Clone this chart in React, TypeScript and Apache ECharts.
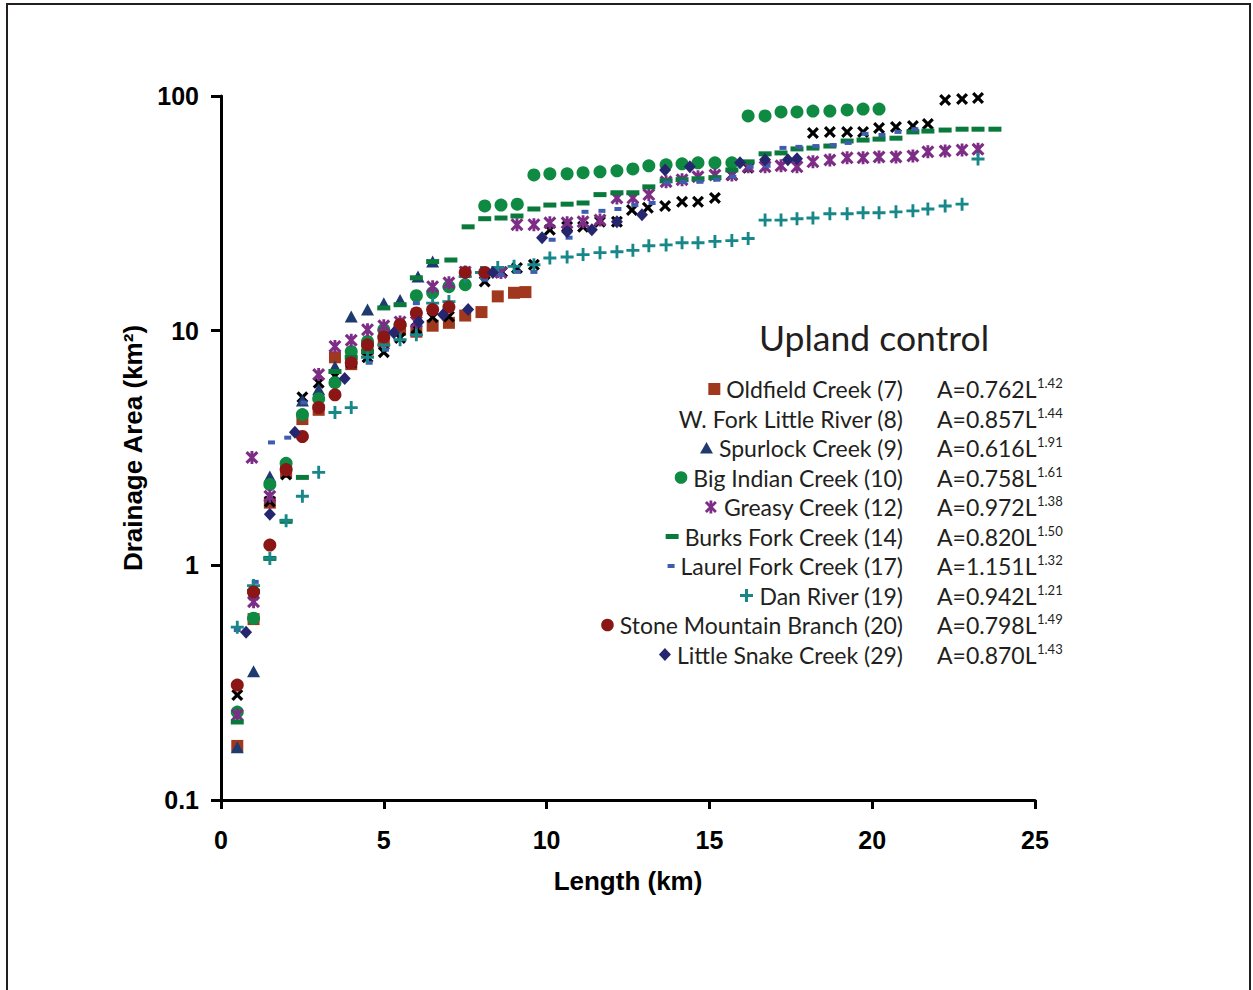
import React, { useEffect, useRef } from 'react';
import * as echarts from 'echarts';

// ---------------- data ----------------
const SERIES_NAMES = [
  'Oldfield Creek (7)',
  'W. Fork Little River (8)',
  'Spurlock Creek (9)',
  'Big Indian Creek (10)',
  'Greasy Creek (12)',
  'Burks Fork Creek (14)',
  'Laurel Fork Creek (17)',
  'Dan River (19)',
  'Stone Mountain Branch (20)',
  'Little Snake Creek (29)',
];
const FORMULA_BASE = ['A=0.762L', 'A=0.857L', 'A=0.616L', 'A=0.758L', 'A=0.972L', 'A=0.820L', 'A=1.151L', 'A=0.942L', 'A=0.798L', 'A=0.870L'];
const FORMULA_EXP = ['1.42', '1.44', '1.91', '1.61', '1.38', '1.50', '1.32', '1.21', '1.49', '1.43'];

const X_TICKS = [0, 5, 10, 15, 20, 25];
const Y_TICKS = [0.1, 1, 10, 100];

const OLD_L = [0.5, 1.0, 1.5, 2.0, 2.5, 3.0, 3.5, 4.0, 4.5, 5.0, 5.5, 6.0, 6.5, 7.0, 7.5, 8.0, 8.5, 9.0, 9.35];
const OLD_A = [0.17, 0.59, 1.85, 2.5, 4.2, 4.6, 7.7, 7.2, 8.3, 9.0, 10.1, 9.9, 10.5, 10.8, 11.6, 12.0, 14.0, 14.5, 14.6];

const WF_L = [0.5, 1.0, 1.5, 2.0, 2.5, 3.0, 3.5, 4.0, 4.5, 5.0, 5.5, 6.0, 6.5, 7.0, 8.1, 8.63, 9.09, 9.61, 10.1, 10.63, 11.12, 11.64, 12.16, 12.62, 13.11, 13.64, 14.16, 14.65, 15.17, 15.69, 16.19, 18.18, 18.7, 19.23, 19.72, 20.21, 20.73, 21.25, 21.71, 22.24, 22.76, 23.25];
const WF_A = [0.28, 0.75, 1.87, 2.44, 5.2, 6.0, 6.4, 7.3, 7.7, 8.1, 9.3, 10.2, 11.4, 11.5, 16.2, 17.8, 18.5, 19.1, 26.9, 27.7, 27.7, 29.1, 29.1, 32.7, 33.4, 34.0, 35.4, 35.4, 36.8, 46.1, 49.4, 69.6, 70.3, 70.3, 70.3, 73.1, 73.8, 74.5, 76.0, 96.2, 97.1, 98.1];

const SP_L = [0.5, 1.0, 1.5, 2.5, 3.0, 3.5, 4.0, 4.5, 5.0, 5.5, 6.05, 6.5];
const SP_A = [0.168, 0.354, 2.39, 5.04, 5.63, 7.03, 11.5, 12.3, 13.1, 13.5, 17.0, 19.7];

const BI_L = [0.5, 1.0, 1.5, 2.0, 2.5, 3.0, 3.5, 4.0, 4.5, 5.0, 5.5, 6.0, 6.5, 7.0, 7.5, 8.1, 8.6, 9.1, 9.61, 10.1, 10.63, 11.12, 11.64, 12.16, 12.65, 13.14, 13.67, 14.16, 14.65, 15.17, 15.69, 16.19, 16.71, 17.2, 17.69, 18.18, 18.7, 19.23, 19.72, 20.21];
const BI_A = [0.237, 0.595, 2.21, 2.72, 4.39, 5.13, 6.0, 8.15, 9.0, 10.1, 10.6, 14.1, 14.5, 15.4, 15.7, 34.0, 34.3, 34.6, 46.1, 46.6, 46.6, 47.1, 47.5, 48.0, 48.9, 50.4, 50.9, 51.4, 51.9, 51.9, 51.9, 82.2, 82.2, 85.5, 85.5, 86.3, 86.3, 87.2, 88.0, 88.0];

const GR_L = [0.5, 0.95, 1.0, 1.5, 3.0, 3.5, 4.0, 4.5, 5.0, 5.5, 6.0, 6.5, 7.0, 7.5, 8.6, 9.09, 9.61, 10.1, 10.63, 11.12, 11.64, 12.16, 12.65, 13.14, 13.67, 14.16, 14.65, 15.17, 15.69, 16.19, 16.71, 17.2, 17.69, 18.18, 18.7, 19.23, 19.72, 20.21, 20.73, 21.25, 21.71, 22.24, 22.76, 23.25];
const GR_A = [0.23, 2.88, 0.70, 1.97, 6.5, 8.57, 9.1, 10.1, 10.5, 10.9, 10.9, 15.4, 16.0, 17.8, 17.7, 28.3, 28.3, 28.8, 28.8, 29.1, 29.6, 36.8, 36.8, 38.0, 43.1, 44.0, 45.3, 46.1, 46.1, 49.9, 49.9, 50.4, 49.9, 52.4, 53.4, 54.5, 54.5, 55.0, 55.0, 55.5, 57.8, 58.3, 58.8, 59.3];

const BF_L = [0.5, 1.0, 1.5, 2.0, 2.5, 3.5, 4.0, 4.5, 5.0, 5.5, 6.0, 6.5, 7.06, 7.59, 8.1, 8.6, 9.09, 9.61, 10.1, 10.63, 11.12, 11.64, 12.16, 12.65, 13.14, 13.67, 14.16, 14.65, 15.17, 15.69, 16.19, 16.71, 17.2, 17.69, 18.18, 18.7, 19.23, 19.72, 20.21, 20.73, 21.25, 21.71, 22.24, 22.76, 23.25, 23.77];
const BF_A = [0.215, 0.775, 1.07, 1.54, 2.37, 6.7, 7.7, 8.15, 12.5, 12.9, 16.8, 19.7, 20.0, 27.7, 30.0, 30.2, 30.8, 33.0, 34.3, 34.6, 35.0, 38.0, 38.7, 38.7, 41.0, 43.5, 44.0, 44.4, 44.9, 48.4, 52.4, 56.7, 57.2, 59.5, 60.0, 61.2, 64.3, 64.9, 65.5, 66.1, 70.3, 70.9, 71.6, 72.2, 72.2, 72.2];

const LF_L = [0.5, 1.05, 1.55, 2.05, 2.55, 3.55, 4.05, 4.55, 5.05, 6.0, 8.1, 8.6, 9.1, 9.61, 10.17, 10.69, 11.18, 11.7, 12.19, 12.71, 13.24, 13.7, 14.2, 14.71, 15.23, 15.72, 16.25, 16.77, 17.26, 17.75, 18.27, 18.8, 19.26, 19.78, 20.3, 20.79, 21.31];
const LF_A = [0.53, 0.85, 3.34, 3.5, 4.94, 5.45, 7.24, 7.3, 8.3, 13.1, 16.5, 17.3, 17.8, 17.8, 24.4, 24.9, 32.1, 32.4, 33.0, 34.3, 35.0, 42.7, 43.1, 43.1, 44.0, 45.3, 49.9, 50.4, 60.1, 60.7, 61.2, 61.8, 63.1, 69.0, 68.2, 70.3, 72.2];

const DR_L = [0.5, 1.0, 1.5, 2.0, 2.5, 3.0, 3.5, 4.0, 4.5, 5.0, 5.5, 6.0, 6.5, 7.0, 7.5, 8.0, 8.5, 9.0, 9.61, 10.1, 10.63, 11.12, 11.64, 12.16, 12.65, 13.14, 13.67, 14.16, 14.65, 15.17, 15.69, 16.19, 16.71, 17.2, 17.69, 18.18, 18.7, 19.23, 19.72, 20.21, 20.73, 21.25, 21.71, 22.24, 22.76, 23.25];
const DR_A = [0.545, 0.82, 1.07, 1.55, 1.97, 2.49, 4.48, 4.7, 7.7, 8.7, 9.15, 9.6, 13.1, 13.3, 17.0, 17.7, 18.6, 18.8, 19.1, 20.4, 20.6, 21.1, 21.5, 21.7, 22.0, 23.0, 23.2, 23.7, 23.7, 24.0, 24.2, 24.7, 29.6, 29.6, 30.0, 30.2, 31.5, 31.5, 31.8, 31.8, 32.1, 32.4, 33.0, 34.0, 34.6, 53.9];

const SM_L = [0.5, 1.0, 1.5, 2.0, 2.5, 3.0, 3.5, 4.0, 4.5, 5.0, 5.5, 6.0, 6.5, 7.0, 7.5, 8.1];
const SM_A = [0.309, 0.77, 1.22, 2.56, 3.54, 4.7, 5.33, 7.3, 8.7, 9.4, 10.6, 11.9, 12.3, 12.6, 17.7, 17.7];

const LS_L = [0.77, 1.5, 2.27, 3.8, 5.31, 6.07, 6.82, 7.59, 8.35, 9.86, 10.63, 11.39, 12.16, 12.93, 13.64, 14.4, 15.94, 16.71, 17.41, 17.69];
const LS_A = [0.518, 1.65, 3.69, 6.25, 9.8, 10.9, 11.7, 12.3, 17.7, 24.9, 26.4, 26.9, 29.1, 31.2, 48.4, 49.9, 51.9, 53.5, 53.5, 54.0];

// ---------------- styles ----------------
const COLORS = ['#A0381E', '#000000', '#1E3A6E', '#0F8A42', '#7E2D86', '#0A7A3C', '#3E5DB0', '#17878A', '#8A1616', '#26266F'];
const KINDS = ['square', 'x', 'triangle', 'circle', 'star', 'dash', 'dash2', 'plus', 'circle', 'diamond'];

const X_PATH = 'path://M0,1.9L1.9,0L5,3.1L8.1,0L10,1.9L6.9,5L10,8.1L8.1,10L5,6.9L1.9,10L0,8.1L3.1,5Z';
const STAR_PATH = 'path://M0,1.7L1.7,0L5,3.3L8.3,0L10,1.7L6.7,5L10,8.3L8.3,10L5,6.7L1.7,10L0,8.3L3.3,5Z M3.9,0L6.1,0L6.1,10L3.9,10Z';
const PLUS_PATH = 'path://M3.9,0L6.1,0L6.1,3.9L10,3.9L10,6.1L6.1,6.1L6.1,10L3.9,10L3.9,6.1L0,6.1L0,3.9L3.9,3.9Z';

const SYMBOLS: Record<string, [string, any]> = {
  square: ['rect', 12],
  x: [X_PATH, 12],
  triangle: ['triangle', [13, 12]],
  circle: ['circle', 13],
  star: [STAR_PATH, 13],
  dash: ['rect', [13, 5]],
  dash2: ['rect', [7, 4]],
  plus: [PLUS_PATH, 13],
  diamond: ['diamond', [12, 13]],
};

const AXIS_FONT = "'Liberation Sans Narrow', 'Arial Narrow', 'Liberation Sans', Arial, sans-serif";
const LEG_FONT = "Lato, 'Noto Sans', sans-serif";
const TEXT_COLOR = '#231F20';

function pairs(L: number[], A: number[]) {
  return L.map((l, i) => [l, A[i]]);
}

const SERIES_DATA = [
  pairs(OLD_L, OLD_A),
  pairs(WF_L, WF_A),
  pairs(SP_L, SP_A),
  pairs(BI_L, BI_A),
  pairs(GR_L, GR_A),
  pairs(BF_L, BF_A),
  pairs(LF_L, LF_A),
  pairs(DR_L, DR_A),
  pairs(SM_L, SM_A),
  pairs(LS_L, LS_A),
];

let measureCtx: CanvasRenderingContext2D | null = null;
function measure(text: string, font: string) {
  if (!measureCtx) measureCtx = document.createElement('canvas').getContext('2d');
  measureCtx!.font = font;
  return measureCtx!.measureText(text).width;
}

function markerGraphic(kind: string, cx: number, cy: number, color: string): any {
  const fill = { fill: color };
  switch (kind) {
    case 'square':
      return { type: 'rect', shape: { x: cx - 6, y: cy - 6, width: 12, height: 12 }, style: fill };
    case 'triangle':
      return { type: 'polygon', shape: { points: [[cx, cy - 6], [cx + 6.5, cy + 5.5], [cx - 6.5, cy + 5.5]] }, style: fill };
    case 'circle':
      return { type: 'circle', shape: { cx, cy, r: 6.3 }, style: fill };
    case 'diamond':
      return { type: 'polygon', shape: { points: [[cx, cy - 6.5], [cx + 6, cy], [cx, cy + 6.5], [cx - 6, cy]] }, style: fill };
    case 'dash':
      return { type: 'rect', shape: { x: cx - 6.5, y: cy - 2.5, width: 13, height: 5 }, style: fill };
    case 'dash2':
      return { type: 'rect', shape: { x: cx - 3.5, y: cy - 2, width: 7, height: 4 }, style: fill };
    case 'plus':
      return {
        type: 'group',
        children: [
          { type: 'rect', shape: { x: cx - 1.5, y: cy - 6.5, width: 3, height: 13 }, style: fill },
          { type: 'rect', shape: { x: cx - 6.5, y: cy - 1.5, width: 13, height: 3 }, style: fill },
        ],
      };
    case 'star':
      return {
        type: 'group',
        children: [
          { type: 'line', shape: { x1: cx - 5, y1: cy - 5, x2: cx + 5, y2: cy + 5 }, style: { stroke: color, lineWidth: 2.8 } },
          { type: 'line', shape: { x1: cx + 5, y1: cy - 5, x2: cx - 5, y2: cy + 5 }, style: { stroke: color, lineWidth: 2.8 } },
          { type: 'line', shape: { x1: cx, y1: cy - 6.5, x2: cx, y2: cy + 6.5 }, style: { stroke: color, lineWidth: 2.8 } },
        ],
      };
    default:
      return null;
  }
}
const MARKER_HALF: Record<string, number> = { square: 6, triangle: 6.5, circle: 6.3, diamond: 6, dash: 6.5, dash2: 3.5, plus: 6.5, star: 6.5 };

function buildGraphics() {
  const g: any[] = [];
  // frame
  g.push({ type: 'rect', silent: true, z: -10, shape: { x: 7, y: 4, width: 1243, height: 1010 }, style: { fill: 'none', stroke: TEXT_COLOR, lineWidth: 2 } });
  // title
  g.push({ type: 'text', x: 759, y: 337, style: { text: 'Upland control', font: `35.5px ${LEG_FONT}`, fill: TEXT_COLOR, align: 'left', verticalAlign: 'middle' } });
  const legFont = `23px ${LEG_FONT}`;
  const supFont = `13px ${LEG_FONT}`;
  SERIES_NAMES.forEach((name, i) => {
    const cy = 389 + i * 29.5;
    g.push({ type: 'text', x: 903, y: cy, style: { text: name, font: legFont, fill: TEXT_COLOR, align: 'right', verticalAlign: 'middle' } });
    const kind = KINDS[i];
    if (kind !== 'x') {
      const w = measure(name, legFont);
      const cx = 903 - w - 6 - MARKER_HALF[kind];
      const m = markerGraphic(kind, cx, cy, COLORS[i]);
      if (m) g.push(m);
    }
    g.push({ type: 'text', x: 937, y: cy, style: { text: FORMULA_BASE[i], font: legFont, fill: TEXT_COLOR, align: 'left', verticalAlign: 'middle' } });
    const bw = measure(FORMULA_BASE[i], legFont);
    g.push({ type: 'text', x: 937 + bw + 0.5, y: cy - 6, style: { text: FORMULA_EXP[i], font: supFont, fill: TEXT_COLOR, align: 'left', verticalAlign: 'middle' } });
  });
  return g;
}

export default function App() {
  const ref = useRef<HTMLDivElement>(null);
  useEffect(() => {
    if (!ref.current) return;
    const chart = echarts.init(ref.current, undefined, { renderer: 'svg' });
    const axisLabelStyle = { fontFamily: AXIS_FONT, fontWeight: 'bold' as const, fontSize: 25, color: '#000' };
    const option: any = {
      animation: false,
      backgroundColor: '#ffffff',
      grid: { left: 221, right: 218, top: 96, bottom: 190, containLabel: false },
      xAxis: {
        type: 'value',
        min: X_TICKS[0],
        max: X_TICKS[X_TICKS.length - 1],
        interval: 5,
        axisLine: { show: true, onZero: false, lineStyle: { color: '#000', width: 3 } },
        axisTick: { show: true, length: 9, lineStyle: { color: '#000', width: 3 } },
        splitLine: { show: false },
        axisLabel: { ...axisLabelStyle, margin: 27 },
        name: 'Length (km)',
        nameLocation: 'middle',
        nameGap: 68,
        nameTextStyle: { ...axisLabelStyle, fontSize: 26 },
      },
      yAxis: {
        type: 'log',
        logBase: 10,
        min: Y_TICKS[0],
        max: Y_TICKS[Y_TICKS.length - 1],
        axisLine: { show: true, onZero: false, lineStyle: { color: '#000', width: 3 } },
        axisTick: { show: true, length: 10, lineStyle: { color: '#000', width: 3 } },
        minorTick: { show: false },
        splitLine: { show: false },
        axisLabel: { ...axisLabelStyle, margin: 22, formatter: (v: number) => String(v) },
        name: 'Drainage Area (km²)',
        nameLocation: 'middle',
        nameGap: 64,
        nameTextStyle: { ...axisLabelStyle, fontSize: 26 },
      },
      series: SERIES_NAMES.map((name, i) => {
        const [symbol, size] = SYMBOLS[KINDS[i]];
        return {
          name,
          type: 'scatter',
          data: SERIES_DATA[i],
          symbol,
          symbolSize: size,
          itemStyle: { color: COLORS[i], opacity: 1 },
          emphasis: { disabled: true },
          z: 2 + i,
        };
      }),
      graphic: buildGraphics(),
    };
    chart.setOption(option);
    return () => chart.dispose();
  }, []);
  return <div ref={ref} style={{ position: 'absolute', left: 0, top: 0, width: 1253, height: 990, background: '#fff' }} />;
}
